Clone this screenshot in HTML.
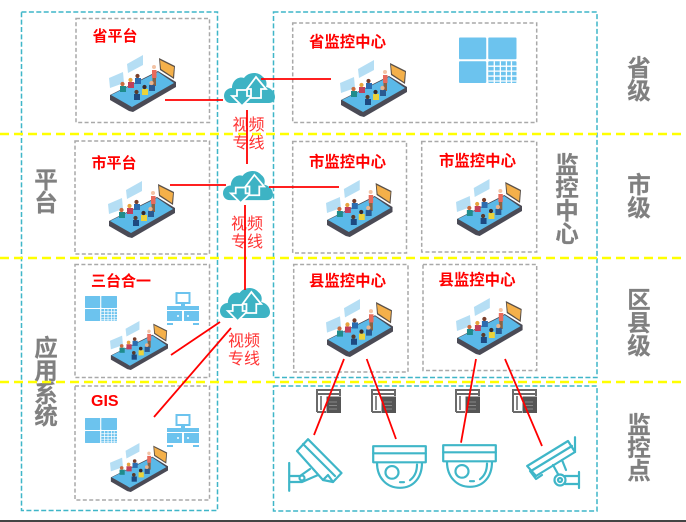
<!DOCTYPE html>
<html><head><meta charset="utf-8"><style>
html,body{margin:0;padding:0;background:#fff}
svg{display:block;filter:blur(0.3px)}
text{font-family:"Liberation Sans","Noto Sans CJK SC",sans-serif}
.g{font-size:23.5px;font-weight:700;fill:#808080;stroke:#808080;stroke-width:.2;text-anchor:middle}
.r{font-size:15px;font-weight:700;fill:#ff0000}
.m{font-size:15.4px;font-weight:700;fill:#ff0000}
.v{font-size:16px;fill:#f33;text-anchor:middle}
.gb{fill:none;stroke:#a9a9a9;stroke-width:1.5;stroke-dasharray:4 2.4}
.tb{fill:none;stroke:#3fb6c8;stroke-width:1.5;stroke-dasharray:5 2.4}
.y{stroke:#ffff00;stroke-width:2.6;stroke-dasharray:9 5}
.l{stroke:#f00;stroke-width:1.8;fill:none}
.c{fill:none;stroke:#3fb6c8;stroke-width:2.2;stroke-linejoin:round;stroke-linecap:round}
</style></head><body>
<svg width="686" height="522" viewBox="0 0 686 522" xmlns="http://www.w3.org/2000/svg">
<defs>
<symbol id="phone" viewBox="0 0 67 57" preserveAspectRatio="none">
<polygon points="1,40 49,16 67,27 67,32 24,57 20,56 1,45" fill="#4a4a55"/>
<polygon points="2,40 49,17 65,28 23,52" fill="#5ab9e8"/>
<polygon points="0,23 14,17 15,28 1,33" fill="#b5def4"/>
<polygon points="18,9 34,0 34,10 19,18" fill="#b5def4"/>
<polygon points="50,3 66,11 65,24 51,15" fill="#5a5048"/>
<polygon points="51,5 65,12 64,22 52,14" fill="#f4b04a"/>
<rect x="43" y="15" width="4.5" height="8" fill="#e86a5c"/>
<rect x="43.5" y="23" width="3.5" height="8" fill="#8a6344"/>
<circle cx="45" cy="12" r="2" fill="#f3c3a5"/>
<g>
<rect x="11" y="31" width="6" height="6" fill="#1f8c8c"/><circle cx="13.5" cy="29" r="2.1" fill="#c96b3e"/>
<rect x="19" y="27" width="6" height="6" fill="#c0405a"/><circle cx="21.5" cy="25" r="2.1" fill="#e8a33d"/>
<rect x="26" y="23" width="6" height="6" fill="#2b6cb0"/><circle cx="28.5" cy="21" r="2.1" fill="#7a3e2a"/>
<rect x="25" y="39" width="6" height="6" fill="#1e4a80"/><circle cx="27.5" cy="37" r="2.1" fill="#5a3a2a"/>
<rect x="33" y="34" width="6" height="6" fill="#ecd23a"/><circle cx="35.5" cy="32" r="2.1" fill="#3a2a2a"/>
<rect x="40" y="30" width="6" height="6" fill="#2b5a90"/><circle cx="42.5" cy="28" r="2.1" fill="#e8b48f"/>
</g>
</symbol>
<symbol id="cloud" viewBox="0 0 51 35" preserveAspectRatio="none">
<path d="M7,31 C2,31 0,27 0,24 C0,19 4,16 8,16 C8,9 14,4 20,6 C24,0 34,-1 39,5 C43,8 43,12 42,15 C47,16 51,20 51,25 C51,29 48,31 45,31 Z" fill="#3db3c4"/>
<path d="M13,18 L23,18 L23,24 L28,24 L18,34 L8,24 L13,24 Z" fill="#3db3c4" stroke="#fff" stroke-width="1.8"/>
<path d="M27,26 L27,17 L23,17 L32,5 L42,17 L37,17 L37,26 Z" fill="#3db3c4" stroke="#fff" stroke-width="1.8"/>
</symbol>
<symbol id="wall" viewBox="0 0 57 46" preserveAspectRatio="none">
<rect x="0" y="0" width="27" height="22" rx="1" fill="#6cc3ee"/>
<rect x="29" y="0" width="28" height="22" rx="1" fill="#6cc3ee"/>
<rect x="0" y="24" width="27" height="22" rx="1" fill="#6cc3ee"/>
<rect x="29" y="24" width="28" height="22" rx="1" fill="#6cc3ee"/>
<g stroke="#fff" stroke-width="1.3" fill="none">
<path d="M29,29H57M29,34H57M29,39H57M29,44H57M35,24V46M41,24V46M47,24V46M52,24V46"/>
</g>
</symbol>
<symbol id="net" viewBox="0 0 32 33" preserveAspectRatio="none">
<rect x="9.5" y="1" width="13" height="10" fill="#fff" stroke="#6cc3ee" stroke-width="2"/>
<rect x="14" y="11" width="4" height="4" fill="#6cc3ee"/>
<rect x="0" y="14" width="32" height="4" fill="#6cc3ee"/>
<rect x="0" y="19" width="15" height="10" fill="#6cc3ee"/>
<rect x="17" y="19" width="15" height="10" fill="#6cc3ee"/>
<rect x="0" y="31" width="6" height="2" fill="#6cc3ee"/>
<rect x="26" y="31" width="6" height="2" fill="#6cc3ee"/>
<circle cx="11" cy="24" r="1" fill="#fff"/><circle cx="21" cy="24" r="1" fill="#fff"/>
</symbol>
<symbol id="dvr" viewBox="0 0 25 24" preserveAspectRatio="none">
<path d="M1,23 H10 M1,23 V1 H24 V7 M1,5 H24" fill="none" stroke="#6a6a6a" stroke-width="2"/>
<path d="M5,7 V21" stroke="#6a6a6a" stroke-width="1.6"/>
<rect x="10.5" y="7.5" width="14.5" height="16.5" fill="#555"/>
<path d="M13,13H21M13,16.5H21M13,20H21" stroke="#999" stroke-width="0.8"/>
</symbol>
<symbol id="dome" viewBox="0 0 55 45" preserveAspectRatio="none">
<g class="c">
<rect x="1.2" y="1.2" width="52.6" height="16.5"/>
<path d="M1.2,8.5 H53.8"/>
<path d="M5,18 C5,34 15,43.8 28,43.8 C41,43.8 50,34 50,18"/>
<circle cx="20" cy="28" r="6.5"/>
<path d="M45,20 C45,28 42,33 38,36 M28,38 H32"/>
</g>
</symbol>
<symbol id="cam1" viewBox="0 0 55 54" preserveAspectRatio="none">
<g class="c">
<path d="M20,1.2 L53.5,35 L45,44 L35,42 L9,13 Z"/>
<path d="M15,6 L47,38"/>
<path d="M35,42 L40,37 M45,44 L40,37"/>
<path d="M1.2,25 V52.8 M1.2,38 H12 L22,31 M1.2,44 H14 L30,37"/>
<circle cx="14" cy="40" r="2.5"/>
</g>
</symbol>
<symbol id="cam2" viewBox="0 0 55 55" preserveAspectRatio="none">
<g class="c">
<path d="M1.2,30 L42,5 L49,16 L10,40 Z"/>
<path d="M5,35 L46,10"/>
<path d="M49,16 V1.2 M10,40 L5,35 M4,35 L10,43 L16,39"/>
<path d="M27,29 L32,38 M36,24 L40,34"/>
<circle cx="34" cy="44" r="5.5"/><circle cx="34" cy="44" r="2"/>
<path d="M39,40 H53 M39,48 H53 M53,36 V52"/>
</g>
</symbol>
</defs>

<rect x="21.5" y="12" width="196" height="498.5" class="tb"/>
<rect x="273.5" y="12" width="323.5" height="365.5" class="tb"/>
<rect x="273.5" y="386" width="323.5" height="125" class="tb"/>

<rect x="76" y="18.5" width="133.5" height="104" class="gb"/>
<rect x="75" y="141" width="134.5" height="113" class="gb"/>
<rect x="75" y="264.5" width="134.5" height="113" class="gb"/>
<rect x="75" y="386" width="134.5" height="114" class="gb"/>
<rect x="292.7" y="23" width="244" height="99.5" class="gb"/>
<rect x="292.7" y="141.5" width="113.8" height="111.5" class="gb"/>
<rect x="421.7" y="141.5" width="115" height="110.5" class="gb"/>
<rect x="293.7" y="264.5" width="114.3" height="107.5" class="gb"/>
<rect x="423" y="264.5" width="113.7" height="106" class="gb"/>

<use href="#phone" x="109" y="55" width="67" height="57"/>
<use href="#phone" x="108" y="181" width="67" height="57"/>
<use href="#phone" x="110" y="321" width="58" height="49"/>
<use href="#phone" x="110" y="443" width="58" height="49"/>
<use href="#phone" x="340" y="60" width="67" height="57"/>
<use href="#phone" x="326" y="180" width="66.5" height="57"/>
<use href="#phone" x="456" y="179" width="66" height="57"/>
<use href="#phone" x="326" y="299" width="67" height="58"/>
<use href="#phone" x="456" y="298" width="66.7" height="57"/>

<use href="#wall" x="459" y="37.5" width="57.5" height="45.5"/>
<use href="#wall" x="85" y="296" width="32" height="25"/>
<use href="#wall" x="85" y="418" width="32" height="25"/>
<use href="#net" x="167" y="292" width="32" height="33"/>
<use href="#net" x="167" y="414" width="32" height="33"/>

<use href="#dvr" x="316" y="389" width="25" height="24"/>
<use href="#dvr" x="371" y="389" width="25" height="24"/>
<use href="#dvr" x="455" y="389" width="25" height="24"/>
<use href="#dvr" x="512" y="389" width="25" height="24"/>

<use href="#cam1" x="288" y="438" width="55" height="54"/>
<use href="#dome" x="372" y="445" width="55" height="44"/>
<use href="#dome" x="442" y="444" width="55" height="44"/>
<use href="#cam2" x="526" y="436" width="55" height="55"/>

<use href="#cloud" x="224" y="72" width="51" height="35"/>
<use href="#cloud" x="223" y="170" width="50" height="34"/>
<use href="#cloud" x="220" y="287" width="50" height="35"/>

<text class="r" x="92.5" y="41">省平台</text>
<text class="r" x="91.5" y="168">市平台</text>
<text class="r" x="91" y="286">三台合一</text>
<text class="r" x="91" y="406" style="font-size:16px">GIS</text>
<text class="m" x="309" y="47">省监控中心</text>
<text class="m" x="309" y="167">市监控中心</text>
<text class="m" x="439" y="166">市监控中心</text>
<text class="m" x="309" y="286">县监控中心</text>
<text class="m" x="438.5" y="285">县监控中心</text>

<text class="g" x="46" y="188">平</text><text class="g" x="46" y="211">台</text>
<text class="g" x="46" y="356">应</text><text class="g" x="46" y="379">用</text><text class="g" x="46" y="402">系</text><text class="g" x="46" y="424">统</text>
<text class="g" x="567" y="173">监</text><text class="g" x="567" y="196">控</text><text class="g" x="567" y="219">中</text><text class="g" x="567" y="242">心</text>
<text class="g" x="639" y="76">省</text><text class="g" x="639" y="99">级</text>
<text class="g" x="639" y="193">市</text><text class="g" x="639" y="216">级</text>
<text class="g" x="639" y="308">区</text><text class="g" x="639" y="331">县</text><text class="g" x="639" y="354">级</text>
<text class="g" x="639" y="433">监</text><text class="g" x="639" y="456">控</text><text class="g" x="639" y="479">点</text>

<text class="v" x="248.5" y="130">视频</text><text class="v" x="248.5" y="148">专线</text>
<text class="v" x="247" y="229">视频</text><text class="v" x="247" y="247">专线</text>
<text class="v" x="244" y="346">视频</text><text class="v" x="244" y="364">专线</text>

<line class="y" x1="0" y1="134" x2="686" y2="134"/>
<line class="y" x1="0" y1="258" x2="686" y2="258"/>
<line class="y" x1="0" y1="382" x2="686" y2="382"/>

<g class="l">
<line x1="165" y1="100" x2="223" y2="100"/>
<line x1="261" y1="79" x2="331" y2="79"/>
<line x1="170" y1="185" x2="226" y2="185"/>
<line x1="269" y1="187" x2="339" y2="187"/>
<line x1="247" y1="110" x2="247" y2="164"/>
<line x1="245" y1="205" x2="245" y2="290"/>
<line x1="171" y1="355" x2="220" y2="322"/>
<line x1="154" y1="417" x2="231" y2="328"/>
<line x1="344" y1="359" x2="314" y2="435"/>
<line x1="366.7" y1="359" x2="396" y2="439"/>
<line x1="476" y1="359" x2="461" y2="442.7"/>
<line x1="505" y1="359" x2="542" y2="446"/>
</g>
<rect x="0" y="520" width="686" height="2" fill="#444"/>
</svg>
</body></html>
